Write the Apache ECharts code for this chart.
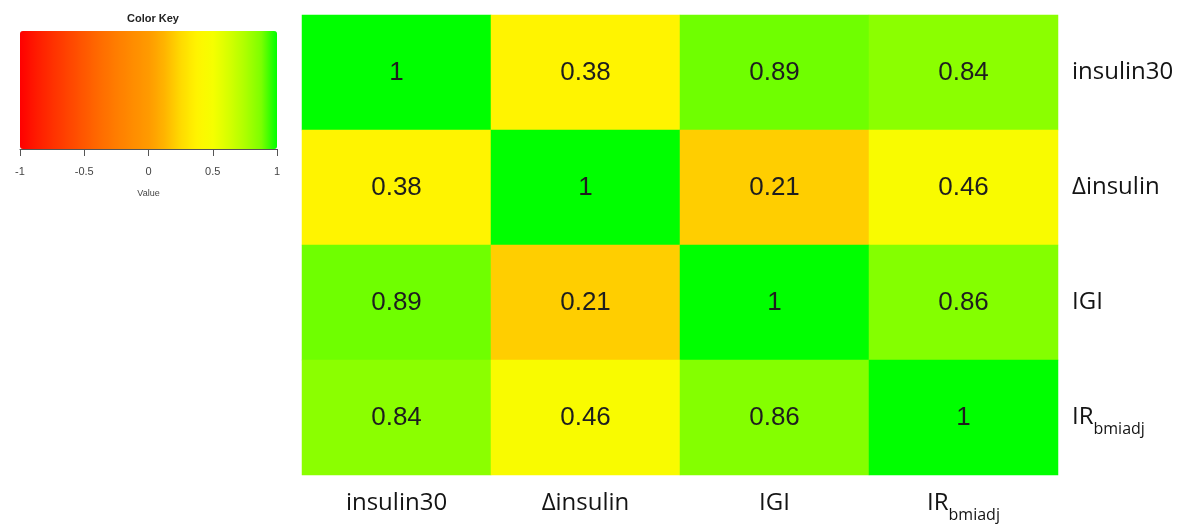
<!DOCTYPE html>
<html>
<head>
<meta charset="utf-8">
<script src="https://cdn.jsdelivr.net/npm/echarts@6/dist/echarts.min.js"></script>
<style>
  html, body { margin: 0; padding: 0; background: #ffffff; }
  #chart { width: 1196px; height: 524px; }
</style>
</head>
<body>
<div id="chart"></div>
<script>
// Correlation matrix of insulin secretion indices
const variables = ['insulin30', 'Δinsulin', 'IGI', 'IR_bmiadj'];
const rowInsulin30 = [1, 0.38, 0.89, 0.84];
const rowDeltaInsulin = [0.38, 1, 0.21, 0.46];
const rowIGI = [0.89, 0.21, 1, 0.86];
const rowIRbmiadj = [0.84, 0.46, 0.86, 1];
const matrixRows = [rowInsulin30, rowDeltaInsulin, rowIGI, rowIRbmiadj];

// Color key scale
const keyMin = -1;
const keyMax = 1;
const keyInterval = 0.5;
const keyColors = [
  '#ff0000', '#ff1a00', '#ff3000', '#ff4400', '#ff5800', '#ff6c00',
  '#ff7d00', '#ff8c00', '#ff9a00', '#ffb400', '#ffda00', '#fff400',
  '#f6ff00', '#d6ff00', '#aeff00', '#7eff00', '#00ff00'
];

const cells = [];
matrixRows.forEach((row, r) => {
  row.forEach((v, c) => cells.push([c, r, v]));
});

const labelFont = '"Open Sans", Lato, sans-serif';
const keyFont = '"Liberation Sans", Arial, sans-serif';
const richNames = {
  m: { fontSize: 24, fontFamily: labelFont, color: '#141414', lineHeight: 40, verticalAlign: 'middle' },
  s: { fontSize: 16, fontFamily: labelFont, color: '#141414', lineHeight: 18, verticalAlign: 'bottom' }
};
function nameFormatter(name) {
  const parts = name.split('_');
  return parts.length > 1 ? '{m|' + parts[0] + '}{s|' + parts[1] + '}' : '{m|' + name + '}';
}

const chart = echarts.init(document.getElementById('chart'));
chart.setOption({
  backgroundColor: '#ffffff',
  animation: false,
  title: {
    text: 'Color Key',
    left: 148,
    top: 8,
    textAlign: 'center',
    textStyle: { fontFamily: keyFont, fontSize: 11, fontWeight: 'bold', color: '#222' }
  },
  grid: [
    { left: 302, top: 15, width: 756, height: 460 },
    { left: 20, top: 31, width: 257, height: 118 }
  ],
  xAxis: [
    {
      type: 'category', gridIndex: 0, data: variables, position: 'bottom',
      axisLine: { show: false }, axisTick: { show: false }, splitLine: { show: false },
      axisLabel: { margin: 8, formatter: nameFormatter, rich: richNames }
    },
    {
      type: 'value', gridIndex: 1, min: keyMin, max: keyMax, interval: keyInterval,
      axisLine: { show: true, lineStyle: { color: '#555', width: 1 } },
      axisTick: { show: true, length: 7, lineStyle: { color: '#555' } },
      splitLine: { show: false },
      axisLabel: { fontFamily: keyFont, fontSize: 11, color: '#444', margin: 17 },
      name: 'Value', nameLocation: 'middle', nameGap: 40,
      nameTextStyle: { fontFamily: keyFont, fontSize: 9, color: '#444' }
    }
  ],
  yAxis: [
    {
      type: 'category', gridIndex: 0, data: variables, position: 'right', inverse: true,
      axisLine: { show: false }, axisTick: { show: false }, splitLine: { show: false },
      axisLabel: { margin: 14, align: 'left', formatter: nameFormatter, rich: richNames }
    },
    { type: 'value', gridIndex: 1, show: false, min: 0, max: 1 }
  ],
  visualMap: {
    type: 'continuous',
    min: keyMin, max: keyMax,
    orient: 'horizontal',
    left: 20, top: 31,
    padding: 0,
    itemHeight: 257,
    itemWidth: 118,
    calculable: false,
    hoverLink: false,
    seriesIndex: 0,
    inRange: { color: keyColors },
    textStyle: { color: 'transparent' }
  },
  series: [{
    type: 'heatmap',
    xAxisIndex: 0, yAxisIndex: 0,
    data: cells,
    itemStyle: { borderWidth: 0 },
    label: {
      show: true,
      fontFamily: keyFont,
      fontSize: 26,
      color: '#1e1e1e',
      formatter: p => String(p.value[2])
    },
    emphasis: { disabled: true }
  }]
});
</script>
</body>
</html>
